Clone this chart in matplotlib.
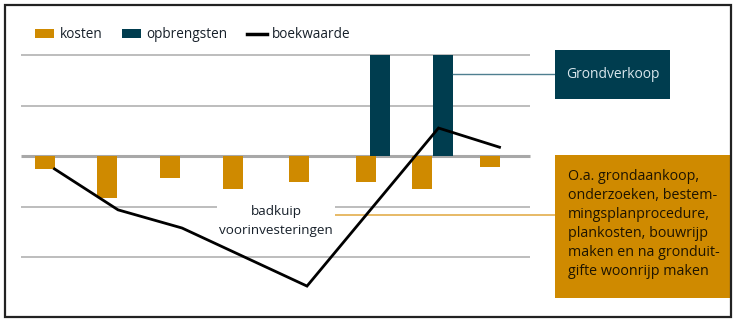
import matplotlib
matplotlib.use("Agg")
import matplotlib.pyplot as plt
from matplotlib.patches import Rectangle, Patch
from matplotlib.lines import Line2D

plt.rcParams['font.family'] = ['Open Sans', 'DejaVu Sans']

# ---- data ----
kosten = [-0.25, -0.82, -0.42, -0.65, -0.50, -0.50, -0.65, -0.21]
opbrengsten = [2.0, 2.0]
boekwaarde = [-0.25, -1.06, -1.42, -2.57, 0.56, 0.18]
legend_labels = ["kosten", "opbrengsten", "boekwaarde"]
grid_values = [2, 1, 0, -1, -2]
label_grond = "Grondverkoop"
label_badkuip = "badkuip\nvoorinvesteringen"
label_kosten = ("O.a. grondaankoop,\nonderzoeken, bestem-\nmingsplanprocedure,\n"
                "plankosten, bouwrijp\nmaken en na gronduit-\ngifte woonrijp maken")

# ---- layout (pixel-like x positions) ----
kosten_x = [45, 107, 170, 233, 299, 366, 422, 490]
opbr_x = [380, 443]
boek_x = [54.5, 118, 182, 307, 438.5, 499.5]
bar_w = 20

C_ORANGE = "#CF8A00"
C_TEAL = "#003D4F"
C_GRID = "#BDBDBD"
C_TEXT = "#17202A"

W, H = 736, 323
fig = plt.figure(figsize=(W / 100, H / 100), dpi=100)
ax = fig.add_axes([0, 0, 1, 1])
zero_px = 156.3
unit = 50.5
ax.set_xlim(0, W)
ax.set_ylim(-(H - zero_px) / unit, zero_px / unit)
ax.axis('off')

def py(p):
    return (zero_px - p) / unit

# gridlines
for g in grid_values:
    ax.plot([21, 530], [g, g], color="#A8A8A8" if g == 0 else C_GRID,
            lw=2.2 if g == 0 else 1.4, zorder=1, solid_capstyle='butt')

ax.bar(kosten_x, kosten, width=bar_w, color=C_ORANGE, zorder=2)
ax.bar(opbr_x, opbrengsten, width=bar_w, color=C_TEAL, zorder=2)
ax.plot(boek_x, boekwaarde, color="black", lw=2.0, zorder=4, solid_joinstyle='miter')

# border
ax.add_patch(Rectangle((5, py(317)), 726, py(5) - py(317), fill=False,
                       edgecolor="#222222", lw=1.6, zorder=10))

# Grondverkoop callout
ax.plot([453, 555], [py(74), py(74)], color="#4F7F90", lw=1.0, zorder=3)
ax.add_patch(Rectangle((555, py(99)), 115, py(50) - py(99), facecolor=C_TEAL,
                       edgecolor="none", zorder=5))
ax.text(612.5, py(74.5), label_grond, color="#D8E6EC", fontsize=10,
        ha='center', va='center', zorder=6)

# kosten callout
ax.plot([333, 555], [py(215), py(215)], color="#E5B45A", lw=1.3, zorder=3)
ax.add_patch(Rectangle((555, py(298)), 175, py(155) - py(298), facecolor=C_ORANGE,
                       edgecolor="none", zorder=5))
ax.text(568, py(224), label_kosten, color="#1E1400", fontsize=10.3,
        ha='left', va='center', linespacing=1.36, zorder=6)

# badkuip label
ax.text(276, py(221), label_badkuip, color=C_TEXT, fontsize=9.7,
        ha='center', va='center', linespacing=1.58, zorder=3,
        bbox=dict(facecolor='white', edgecolor='none', pad=1.5))

# legend
handles = [Patch(facecolor=C_ORANGE, edgecolor='none'),
           Patch(facecolor=C_TEAL, edgecolor='none'),
           Line2D([0], [0], color='black', lw=2.5)]
leg = ax.legend(handles, legend_labels, ncol=3, frameon=False, fontsize=9.8,
                loc='center left', bbox_to_anchor=(35 / W - 0.008, 1 - 35 / H),
                handlelength=1.45, handleheight=0.6, handletextpad=0.4,
                columnspacing=1.4, borderaxespad=0)
for t in leg.get_texts():
    t.set_color(C_TEXT)

fig.savefig("out.png", dpi=100)
